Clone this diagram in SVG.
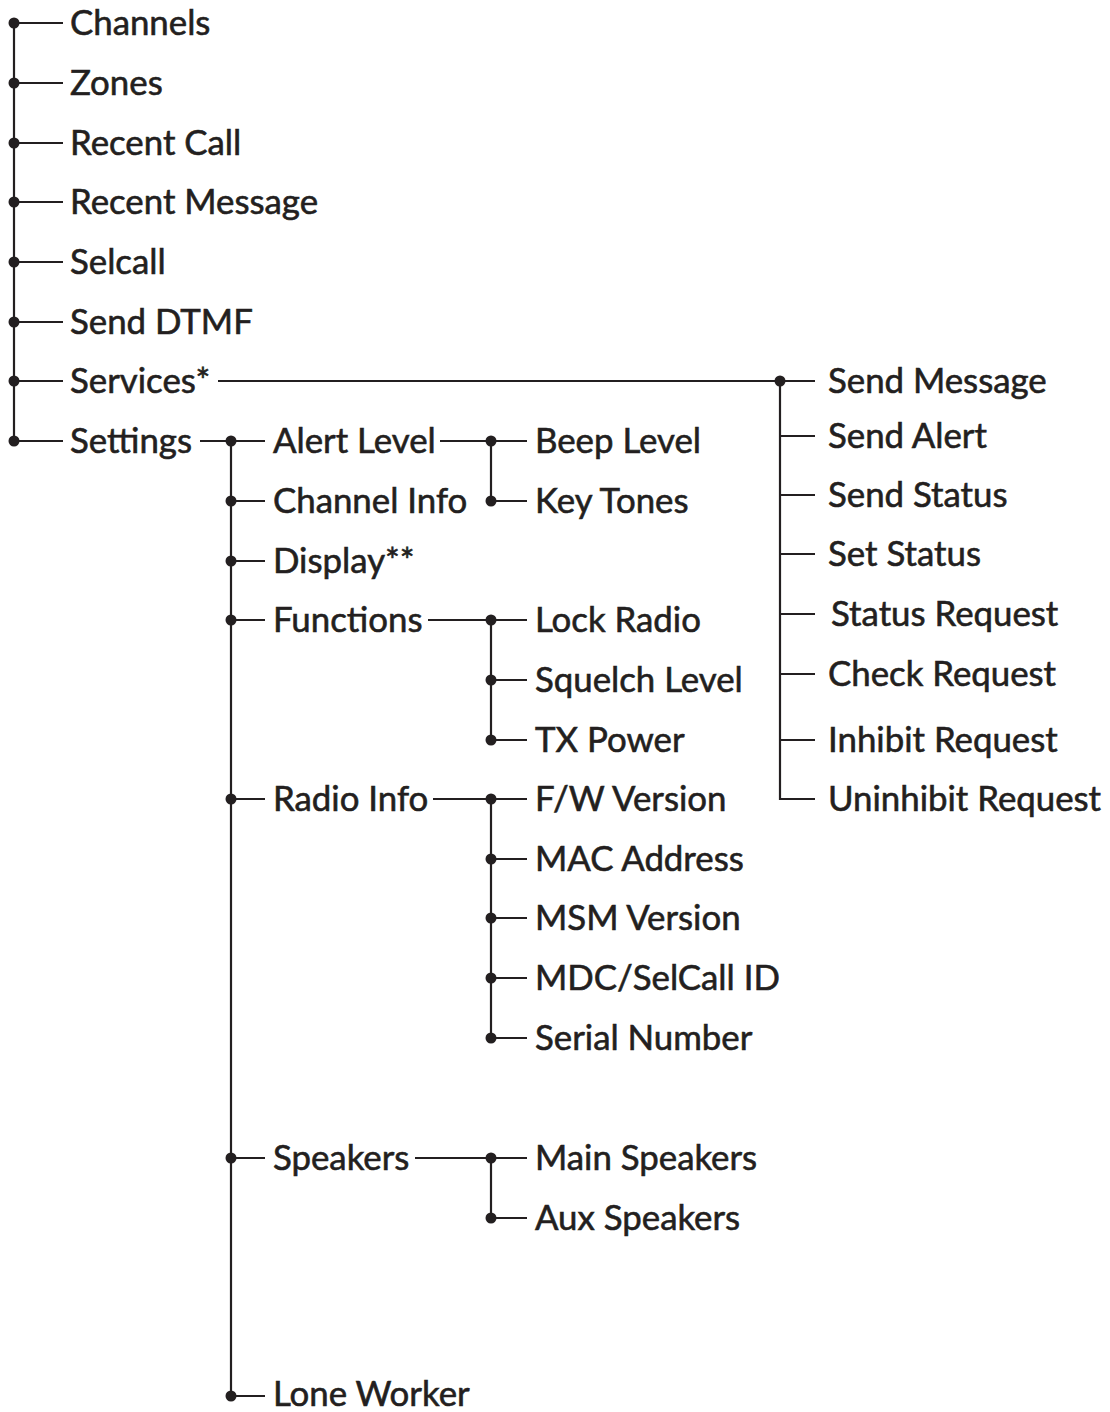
<svg xmlns="http://www.w3.org/2000/svg" width="1110" height="1412" viewBox="0 0 1110 1412">
<style>
.t{font-family:Lato,"Open Sans",sans-serif;font-size:34.8px;fill:#231f20;stroke:#231f20;stroke-width:0.6px}
.l{stroke:#231f20;stroke-width:2.2;fill:none}
.d{fill:#231f20}
</style>
<rect width="1110" height="1412" fill="#fff"/>
<g id="connectors">
<path class="l" d="M14 23V441M14 23H63M14 83H63M14 143H63M14 202H63M14 262H63M14 322H63M14 381H63M14 441H63"/>
<path class="l" d="M218 381H815M780 381V799H815M780 436H815M780 495H815M780 554H815M780 614H815M780 674H815M780 740H815"/>
<path class="l" d="M200 441H265M231 441V1396H265M231 501H265M231 561H265M231 620H265M231 799H265M231 1158H265"/>
<path class="l" d="M440 441H527M491 441V501H527"/>
<path class="l" d="M428 620H527M491 620V740H527M491 680H527"/>
<path class="l" d="M433 799H527M491 799V1038H527M491 859H527M491 918H527M491 978H527"/>
<path class="l" d="M415 1158H527M491 1158V1218H527"/>
<g class="d">
<circle cx="14" cy="23" r="5.5"/><circle cx="14" cy="83" r="5.5"/><circle cx="14" cy="143" r="5.5"/><circle cx="14" cy="202" r="5.5"/><circle cx="14" cy="262" r="5.5"/><circle cx="14" cy="322" r="5.5"/><circle cx="14" cy="381" r="5.5"/><circle cx="14" cy="441" r="5.5"/>
<circle cx="780" cy="381" r="5.5"/>
<circle cx="231" cy="441" r="5.5"/><circle cx="231" cy="501" r="5.5"/><circle cx="231" cy="561" r="5.5"/><circle cx="231" cy="620" r="5.5"/><circle cx="231" cy="799" r="5.5"/><circle cx="231" cy="1158" r="5.5"/><circle cx="231" cy="1396" r="5.5"/>
<circle cx="491" cy="441" r="5.5"/><circle cx="491" cy="501" r="5.5"/>
<circle cx="491" cy="620" r="5.5"/><circle cx="491" cy="680" r="5.5"/><circle cx="491" cy="740" r="5.5"/>
<circle cx="491" cy="799" r="5.5"/><circle cx="491" cy="859" r="5.5"/><circle cx="491" cy="918" r="5.5"/><circle cx="491" cy="978" r="5.5"/><circle cx="491" cy="1038" r="5.5"/>
<circle cx="491" cy="1158" r="5.5"/><circle cx="491" cy="1218" r="5.5"/>
</g>
</g>
<g id="n-channels"><text class="t" x="70" y="35">Channels</text></g>
<g id="n-zones"><text class="t" x="70" y="95">Zones</text></g>
<g id="n-recent-call"><text class="t" x="70" y="155">Recent Call</text></g>
<g id="n-recent-message"><text class="t" x="70" y="214">Recent Message</text></g>
<g id="n-selcall"><text class="t" x="70" y="274">Selcall</text></g>
<g id="n-send-dtmf"><text class="t" x="70" y="334">Send DTMF</text></g>
<g id="n-services"><text class="t" x="70" y="393">Services*</text></g>
<g id="n-settings"><text class="t" x="70" y="453">Settings</text></g>
<g id="n-send-message"><text class="t" x="828" y="393">Send Message</text></g>
<g id="n-send-alert"><text class="t" x="828" y="448">Send Alert</text></g>
<g id="n-send-status"><text class="t" x="828" y="507">Send Status</text></g>
<g id="n-set-status"><text class="t" x="828" y="566">Set Status</text></g>
<g id="n-status-request"><text class="t" x="831" y="626">Status Request</text></g>
<g id="n-check-request"><text class="t" x="828" y="686">Check Request</text></g>
<g id="n-inhibit-request"><text class="t" x="828" y="752">Inhibit Request</text></g>
<g id="n-uninhibit-request"><text class="t" x="828" y="811">Uninhibit Request</text></g>
<g id="n-alert-level"><text class="t" x="273" y="453">Alert Level</text></g>
<g id="n-channel-info"><text class="t" x="273" y="513">Channel Info</text></g>
<g id="n-display"><text class="t" x="273" y="573">Display**</text></g>
<g id="n-functions"><text class="t" x="273" y="632">Functions</text></g>
<g id="n-radio-info"><text class="t" x="273" y="811">Radio Info</text></g>
<g id="n-speakers"><text class="t" x="273" y="1170">Speakers</text></g>
<g id="n-lone-worker"><text class="t" x="273" y="1406">Lone Worker</text></g>
<g id="n-beep-level"><text class="t" x="535" y="453">Beep Level</text></g>
<g id="n-key-tones"><text class="t" x="535" y="513">Key Tones</text></g>
<g id="n-lock-radio"><text class="t" x="535" y="632">Lock Radio</text></g>
<g id="n-squelch-level"><text class="t" x="535" y="692">Squelch Level</text></g>
<g id="n-tx-power"><text class="t" x="535" y="752">TX Power</text></g>
<g id="n-fw-version"><text class="t" x="535" y="811">F/W Version</text></g>
<g id="n-mac-address"><text class="t" x="535" y="871">MAC Address</text></g>
<g id="n-msm-version"><text class="t" x="535" y="930">MSM Version</text></g>
<g id="n-mdc-selcall-id"><text class="t" x="535" y="990">MDC/SelCall ID</text></g>
<g id="n-serial-number"><text class="t" x="535" y="1050">Serial Number</text></g>
<g id="n-main-speakers"><text class="t" x="535" y="1170">Main Speakers</text></g>
<g id="n-aux-speakers"><text class="t" x="535" y="1230">Aux Speakers</text></g>
</svg>
